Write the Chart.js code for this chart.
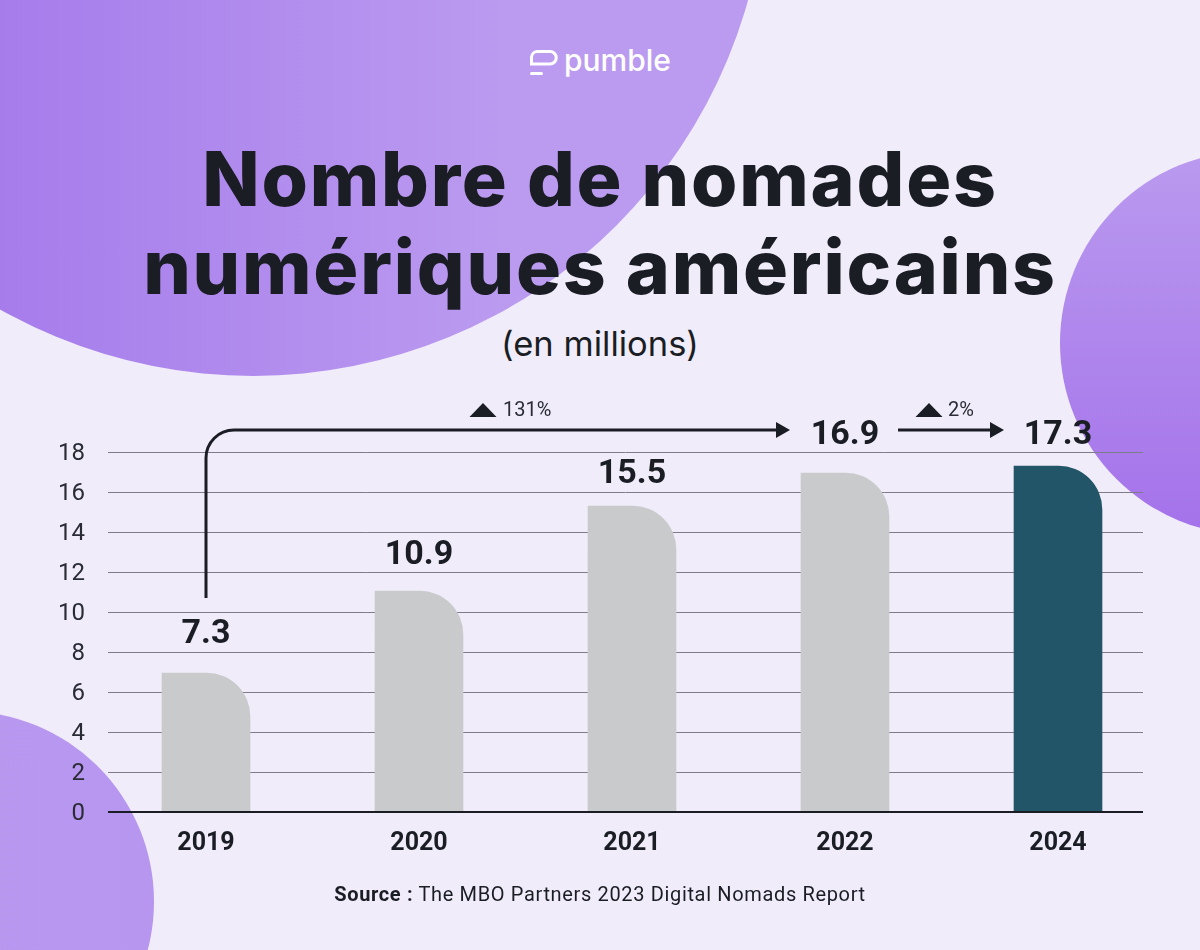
<!DOCTYPE html>
<html lang="fr">
<head>
<meta charset="utf-8">
<title>Nombre de nomades numériques américains</title>
<script src="https://cdn.jsdelivr.net/npm/chart.js@4"></script>
<style>
  html, body { margin: 0; padding: 0; }
  #page { position: relative; width: 1200px; height: 950px; overflow: hidden; background: #f0ecfa; color: #1a1d23; font-family: Roboto, sans-serif; }
  .blob { position: absolute; border-radius: 50%; }
  #blob1 { left: -261px; top: -652px; width: 1028px; height: 1028px; background: linear-gradient(90deg, #a67ceb 25%, #bb9bf0 75%); }
  #blob2 { left: 1060px; top: 151px; width: 384px; height: 384px; background: linear-gradient(180deg, #ba9aef 0%, #a472ea 100%); }
  #blob3 { left: -227px; top: 711px; width: 381px; height: 381px; background: linear-gradient(90deg, #bb9bf0 0%, #b696ef 100%); }
  canvas { position: absolute; left: 0; top: 0; }
  .txt { position: absolute; left: 0; width: 1200px; text-align: center; white-space: nowrap; }
  #title { top: 135px; font: 800 75px/88px Inter, sans-serif; letter-spacing: 1.8px; }
  #sub { top: 323px; font: 400 34.5px/42px Inter, sans-serif; }
  #source { top: 881px; font: 400 20px/26px Roboto, sans-serif; letter-spacing: 0.65px; }
  #source b { font-weight: 700; }
  #logo { position: absolute; left: 529px; top: 46px; }
  #brand { position: absolute; left: 564px; top: 40px; color: #fff; font: 500 30px/40px Inter, sans-serif; }
</style>
</head>
<body>
<div id="page">
  <div class="blob" id="blob1"></div>
  <div class="blob" id="blob2"></div>
  <div class="blob" id="blob3"></div>
  <svg id="logo" width="30" height="32" viewBox="0 0 30 32">
    <path d="M8 5.5h13a6 6 0 0 1 0 12.5H2.5V11a6 6 0 0 1 5.5-5.5z" fill="none" stroke="#fff" stroke-width="3"/>
    <rect x="1" y="26" width="13" height="3" rx="1.5" fill="#fff"/>
  </svg>
  <div id="brand">pumble</div>
  <div class="txt" id="title">Nombre de nomades<br>numériques américains</div>
  <div class="txt" id="sub">(en millions)</div>
  <canvas id="myChart" width="1200" height="950"></canvas>
  <div class="txt" id="source"><b>Source :</b> The MBO Partners 2023 Digital Nomads Report</div>
</div>
<script>
var dark = "#1a1d23";
var years = ["2019", "2020", "2021", "2022", "2024"];
var barValues = [6.95, 11.05, 15.3, 16.95, 17.3]; // hauteur des barres
var barLabels = ["7.3", "10.9", "15.5", "16.9", "17.3"]; // texte au-dessus
var labelPos = [8.9, 12.85, 16.9, 18.85, 18.85]; // position du texte sur l'axe y

function arrowHead(c, tipX, y) {
  c.beginPath();
  c.moveTo(tipX, y);
  c.lineTo(tipX - 14, y - 8);
  c.lineTo(tipX - 14, y + 8);
  c.closePath();
  c.fill();
}

function triangle(c, x, y) {
  c.beginPath();
  c.moveTo(x, y - 14);
  c.lineTo(x + 13.5, y);
  c.lineTo(x - 13.5, y);
  c.closePath();
  c.fill();
}

var decorations = {
  id: "decorations",
  beforeDatasetsDraw: function (chart) {
    var c = chart.ctx, y = chart.scales.y;
    c.save();
    c.strokeStyle = "#7f7b89";
    c.lineWidth = 1;
    for (var v = 2; v <= 18; v += 2) {
      var py = Math.round(y.getPixelForValue(v)) + 0.5;
      c.beginPath();
      c.moveTo(108, py);
      c.lineTo(1143, py);
      c.stroke();
    }
    c.restore();
  },
  afterDatasetsDraw: function (chart) {
    var c = chart.ctx, x = chart.scales.x, y = chart.scales.y;
    c.save();
    // axe du bas
    c.strokeStyle = dark;
    c.lineWidth = 2;
    c.beginPath();
    c.moveTo(108, y.getPixelForValue(0));
    c.lineTo(1143, y.getPixelForValue(0));
    c.stroke();

    // valeurs
    c.fillStyle = dark;
    c.font = "700 34px Roboto";
    c.textAlign = "center";
    c.textBaseline = "middle";
    barLabels.forEach(function (t, i) {
      c.fillText(t, x.getPixelForValue(i), y.getPixelForValue(labelPos[i]));
    });

    // fleches
    var x0 = x.getPixelForValue(0);
    var arrowY = 430;
    c.lineWidth = 3;
    c.beginPath();
    c.moveTo(x0, 598);
    c.lineTo(x0, arrowY + 28);
    c.arcTo(x0, arrowY, x0 + 28, arrowY, 28);
    c.lineTo(778, arrowY);
    c.moveTo(898, arrowY);
    c.lineTo(992, arrowY);
    c.stroke();
    arrowHead(c, 790, arrowY);
    arrowHead(c, 1004, arrowY);

    triangle(c, 483, 417);
    triangle(c, 929, 417);
    c.font = "400 20px Roboto";
    c.textAlign = "left";
    c.fillStyle = "#2a2c35";
    c.fillText("131%", 503, 411);
    c.fillText("2%", 948, 411);
    c.restore();
  }
};

var ctx = document.getElementById("myChart");
var chart = new Chart(ctx, {
  type: "bar",
  data: {
    labels: years,
    datasets: [
      {
        label: "Nomades numériques",
        data: barValues,
        backgroundColor: ["#c9cacb", "#c9cacb", "#c9cacb", "#c9cacb", "#225567"],
        borderWidth: 0,
        borderRadius: { topRight: 44 },
        barThickness: 88,
      },
    ],
  },
  options: {
    responsive: false,
    animation: false,
    layout: { padding: { top: 452, right: 35.5, left: 0, bottom: 0 } },
    plugins: { legend: { display: false }, tooltip: { enabled: false } },
    scales: {
      x: {
        grid: { display: false, drawTicks: false },
        border: { display: false },
        ticks: { color: dark, padding: 17, maxRotation: 0, font: { family: "Roboto", size: 25, weight: "700" } },
        afterFit: function (s) { s.height = 138; },
      },
      y: {
        min: 0,
        max: 18,
        grid: { display: false, drawTicks: false },
        border: { display: false },
        ticks: {
          stepSize: 2,
          color: "#2a2c35",
          padding: 14.5,
          font: { family: "Roboto", size: 24, lineHeight: 4 / 24 },
          // ligne vide devant : descend le chiffre de 2px
          callback: function (v) { return ["", String(v)]; },
        },
        afterFit: function (s) { s.width = 99.5; },
      },
    },
  },
  plugins: [decorations],
});
</script>
</body>
</html>
